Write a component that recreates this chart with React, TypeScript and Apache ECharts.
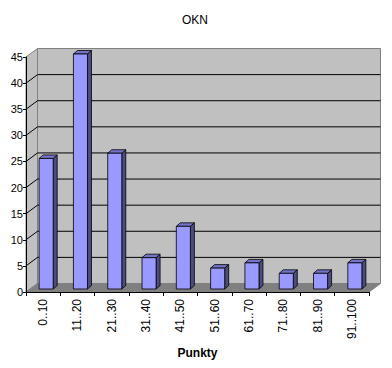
import React, { useEffect, useRef } from "react";
import * as echarts from "echarts";

const title = "OKN";
const axisName = "Punkty";
const categories = ["0..10", "11..20", "21..30", "31..40", "41..50", "51..60", "61..70", "71..80", "81..90", "91..100"];
const values = [25, 45, 26, 6, 12, 4, 5, 3, 3, 5];
const yMin = 0;
const yMax = 45;
const yInterval = 5;

const DX = 11.5;
const DY = -8.5;
const FRONT = [3, -3];
const BACK = [7, -6.5];

export default function App() {
  const ref = useRef<HTMLDivElement>(null);
  useEffect(() => {
    if (!ref.current) return;
    const chart = echarts.init(ref.current, null, { renderer: "svg" });
    const font = "'Liberation Sans', Arial, sans-serif";
    chart.setOption({
      animation: false,
      backgroundColor: "#ffffff",
      title: {
        text: title,
        left: 190,
        top: 9,
        textAlign: "center",
        textStyle: { fontFamily: font, fontSize: 12, fontWeight: "normal", color: "#000" },
      },
      grid: { left: 26, right: 23, top: 57, bottom: 76, containLabel: false },
      xAxis: {
        type: "category",
        data: categories,
        boundaryGap: true,
        name: axisName,
        nameLocation: "middle",
        nameGap: 55,
        nameTextStyle: { fontFamily: font, fontSize: 12, fontWeight: "bold", color: "#000" },
        axisLine: { show: true, lineStyle: { color: "#000", width: 1 } },
        axisTick: { show: true, length: 4, lineStyle: { color: "#000" }, alignWithLabel: false },
        axisLabel: { rotate: 90, margin: 7, fontFamily: font, fontSize: 12, color: "#000", interval: 0 },
        splitLine: { show: false },
        z: 10,
      },
      yAxis: {
        type: "value",
        min: yMin,
        max: yMax,
        interval: yInterval,
        axisLine: { show: true, lineStyle: { color: "#000", width: 1 } },
        axisTick: { show: true, length: 3, lineStyle: { color: "#000" } },
        axisLabel: { margin: 3, fontFamily: font, fontSize: 11, color: "#000" },
        splitLine: { show: false },
        z: 10,
      },
      series: [
        {
          type: "custom",
          clip: false,
          z: 1,
          silent: true,
          data: [[0, 0]],
          renderItem: (params: any, api: any) => {
            const cs = params.coordSys;
            const L = cs.x;
            const R = cs.x + cs.width;
            const yTop = api.coord([0, yMax])[1];
            const yBot = api.coord([0, yMin])[1];
            const children: any[] = [];
            children.push({
              type: "polygon",
              shape: { points: [[L, yTop], [L + DX, yTop + DY], [L + DX, yBot + DY], [L, yBot]] },
              style: { fill: "#C0C0C0", stroke: "#808080", lineWidth: 1 },
            });
            children.push({
              type: "rect",
              shape: { x: L + DX, y: yTop + DY, width: R - L, height: yBot - yTop },
              style: { fill: "#C0C0C0", stroke: "#808080", lineWidth: 1 },
            });
            children.push({
              type: "polygon",
              shape: { points: [[L, yBot], [L + DX, yBot + DY], [R + DX, yBot + DY], [R, yBot]] },
              style: { fill: "#808080", stroke: "#808080", lineWidth: 1 },
            });
            for (let v = yMin + yInterval; v < yMax; v += yInterval) {
              const y = api.coord([0, v])[1];
              children.push({
                type: "line",
                shape: { x1: L + DX, y1: y + DY, x2: R + DX, y2: y + DY },
                style: { stroke: "#000", lineWidth: 1 },
              });
              children.push({
                type: "line",
                shape: { x1: L, y1: y, x2: L + DX, y2: y + DY },
                style: { stroke: "#000", lineWidth: 1 },
              });
            }
            return { type: "group", children };
          },
        },
        {
          type: "custom",
          clip: false,
          z: 2,
          data: values.map((v, i) => [i, v]),
          renderItem: (params: any, api: any) => {
            const idx = api.value(0);
            const val = api.value(1);
            const top = api.coord([idx, val]);
            const base = api.coord([idx, 0]);
            const bw = api.size([1, 0])[0] * 0.41;
            const x0 = top[0] - bw / 2 + FRONT[0];
            const x1 = x0 + bw;
            const yT = top[1] + FRONT[1];
            const yB = base[1] + FRONT[1];
            const ox = BACK[0] - FRONT[0];
            const oy = BACK[1] - FRONT[1];
            const st = { stroke: "#000", lineWidth: 0.8 };
            return {
              type: "group",
              children: [
                {
                  type: "polygon",
                  shape: { points: [[x1, yT], [x1 + ox, yT + oy], [x1 + ox, yB + oy], [x1, yB]] },
                  style: { fill: "#4C4C80", ...st },
                },
                {
                  type: "polygon",
                  shape: { points: [[x0, yT], [x0 + ox, yT + oy], [x1 + ox, yT + oy], [x1, yT]] },
                  style: { fill: "#7373C8", ...st },
                },
                {
                  type: "rect",
                  shape: { x: x0, y: yT, width: bw, height: yB - yT },
                  style: { fill: "#9999FF", ...st },
                },
              ],
            };
          },
        },
      ],
    });
    return () => chart.dispose();
  }, []);
  return (
    <div
      ref={ref}
      style={{ position: "fixed", left: 0, top: 0, width: 392, height: 368, background: "#fff" }}
    />
  );
}
